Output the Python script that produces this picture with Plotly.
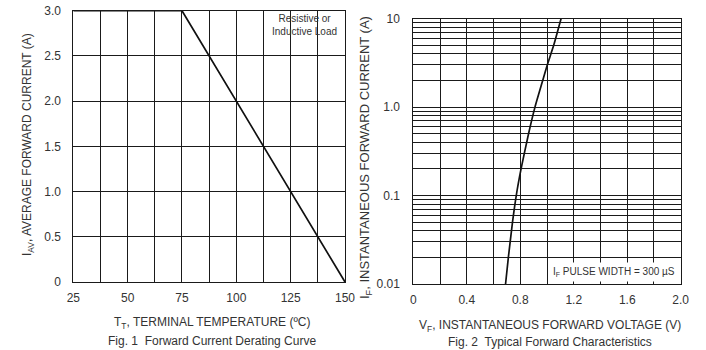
import plotly.graph_objects as go

# Fig. 1 data
temp_c = [25, 75, 150]
iav_a = [3.0, 3.0, 0.0]
left_xticks = [25, 50, 75, 100, 125, 150]
left_yticks = [0, 0.5, 1.0, 1.5, 2.0, 2.5, 3.0]
left_yticklabels = ["0", "0.5", "1.0", "1.5", "2.0", "2.5", "3.0"]

# Fig. 2 data
vf_v = [0.69, 0.711, 0.742, 0.77, 0.806, 0.862, 0.91, 0.968, 1.002, 1.05, 1.105]
if_a = [0.01, 0.02, 0.05, 0.1, 0.2, 0.5, 1.0, 2.0, 3.0, 5.0, 10.0]
right_xticks = [0, 0.4, 0.8, 1.2, 1.6, 2.0]
right_xticklabels = ["0", "0.4", "0.8", "1.2", "1.6", "2.0"]
right_ydecades = [0.01, 0.1, 1.0, 10]
right_ydecade_labels = ["0.01", "0.1", "1.0", "10"]

W, H = 706, 350
FONT = "Liberation Sans, Arial, sans-serif"
TXT = "#333333"
GRID = "#1a1a1a"

def px(x):
    return x / W

def py(y):
    return 1 - y / H

fig = go.Figure()
fig.add_trace(go.Scatter(x=temp_c, y=iav_a, mode="lines",
                         line=dict(color="#111111", width=1.7),
                         xaxis="x", yaxis="y", showlegend=False))
fig.add_trace(go.Scatter(x=vf_v, y=if_a, mode="lines",
                         line=dict(color="#111111", width=1.7, shape="spline", smoothing=0.5),
                         xaxis="x2", yaxis="y2", showlegend=False))

tickfont = dict(family=FONT, size=12, color=TXT)

fig.update_layout(
    width=W, height=H,
    margin=dict(l=0, r=0, t=0, b=0, autoexpand=False),
    paper_bgcolor="white", plot_bgcolor="white",
    font=dict(family=FONT, color=TXT),
    xaxis=dict(domain=[px(73.3), px(345)], range=[25, 150],
               tickvals=left_xticks, ticks="", tickfont=tickfont,
               ticklabelstandoff=5,
               showgrid=True, gridcolor=GRID, gridwidth=1,
               minor=dict(dtick=12.5, tick0=25, showgrid=True, gridcolor=GRID, gridwidth=1),
               showline=True, linecolor=GRID, linewidth=1, mirror=True,
               zeroline=False, anchor="y", automargin=False),
    yaxis=dict(domain=[py(282), py(10.7)], range=[0, 3.0],
               tickvals=left_yticks, ticktext=left_yticklabels, ticks="",
               tickfont=tickfont, ticklabelstandoff=9,
               showgrid=True, gridcolor=GRID, gridwidth=1,
               showline=True, linecolor=GRID, linewidth=1, mirror=True,
               zeroline=False, anchor="x", automargin=False),
    xaxis2=dict(domain=[px(413.3), px(680.7)], range=[0, 2.0],
                tickvals=right_xticks, ticktext=right_xticklabels, ticks="",
                tickfont=tickfont, ticklabelstandoff=5,
                showgrid=True, gridcolor=GRID, gridwidth=1,
                minor=dict(dtick=0.2, tick0=0, showgrid=True, gridcolor=GRID, gridwidth=1),
                showline=True, linecolor=GRID, linewidth=1, mirror=True,
                zeroline=False, anchor="y2", automargin=False),
    yaxis2=dict(domain=[py(284), py(18.7)], type="log", range=[-2, 1],
                tickvals=right_ydecades, ticktext=right_ydecade_labels, ticks="",
                tickfont=tickfont, ticklabelstandoff=10,
                showgrid=True, gridcolor=GRID, gridwidth=1,
                minor=dict(dtick="D1", showgrid=True, gridcolor=GRID, gridwidth=1),
                showline=True, linecolor=GRID, linewidth=1, mirror=True,
                zeroline=False, anchor="x2", automargin=False),
)

def note(x, y, text, size=12, angle=0, **kw):
    return dict(x=px(x), y=py(y), xref="paper", yref="paper", text=text,
                showarrow=False, xanchor="center", yanchor="middle",
                textangle=angle, font=dict(family=FONT, size=size, color=TXT), **kw)

ann = [
    note(304, 25, "Resistive or<br>Inductive Load", size=10, align="center"),
    note(28, 145, "I<sub>AV</sub>, AVERAGE FORWARD CURRENT (A)", size=12, angle=-90),
    note(212, 323, "T<sub>T</sub>, TERMINAL TEMPERATURE (ºC)", size=12),
    note(212, 341, "Fig. 1  Forward Current Derating Curve", size=12),
    note(614, 272, "I<sub>F</sub> PULSE WIDTH = 300 µS", size=10,
         bgcolor="white", borderpad=3),
    note(365, 158, "I<sub>F</sub>, INSTANTANEOUS FORWARD CURRENT (A)", size=13, angle=-90),
    note(550, 326, "V<sub>F</sub>, INSTANTANEOUS FORWARD VOLTAGE (V)", size=12),
    note(550, 342, "Fig. 2  Typical Forward Characteristics", size=12),
]
fig.update_layout(annotations=ann)

fig.write_html("out.html",
               post_script="document.body.style.margin='0';document.body.style.overflow='hidden';")
